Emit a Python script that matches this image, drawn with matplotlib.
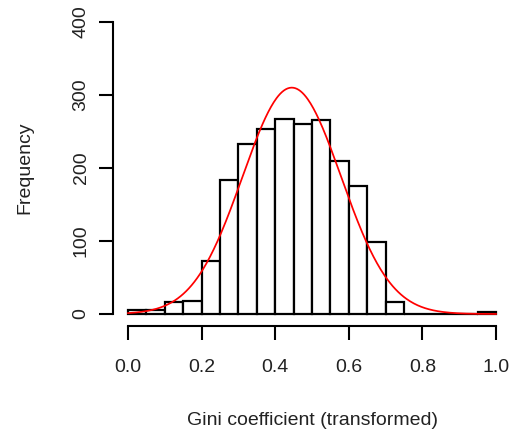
import numpy as np
import matplotlib
matplotlib.use("Agg")
import matplotlib.pyplot as plt

plt.rcParams['font.family'] = ['Liberation Sans', 'DejaVu Sans']

# histogram bins (width 0.05) and counts
bin_edges = np.round(np.arange(0, 1.0001, 0.05), 2)
counts = [5, 5, 16, 18, 72, 183, 233, 254, 267, 260,
          266, 209, 176, 99, 17, 0, 0, 0, 0, 3]

# fitted normal curve parameters
fit_mean = 0.445
fit_sd = 0.134
n_obs = sum(counts)
bin_w = 0.05

fig = plt.figure(figsize=(5.15, 4.38), dpi=100)
ax = fig.add_axes([0.220, 0.2564, 0.7717, 0.7201])

ax.bar(bin_edges[:-1], counts, width=bin_w, align='edge',
       color='white', edgecolor='black', linewidth=1.6)

xs = np.linspace(0, 1, 400)
dens = n_obs * bin_w * np.exp(-0.5 * ((xs - fit_mean) / fit_sd) ** 2) / (fit_sd * np.sqrt(2 * np.pi))
ax.plot(xs, dens, color='red', linewidth=1.25)

ax.set_xlim(-0.04, 1.04)
ax.set_ylim(-16, 416)

for s in ['top', 'right']:
    ax.spines[s].set_visible(False)
ax.spines['left'].set_bounds(0, 400)
ax.spines['bottom'].set_bounds(0, 1)
ax.spines['left'].set_linewidth(1.5)
ax.spines['bottom'].set_linewidth(1.5)

txt = '#222222'
ax.set_xticks([0.0, 0.2, 0.4, 0.6, 0.8, 1.0])
ax.set_xticklabels(['0.0', '0.2', '0.4', '0.6', '0.8', '1.0'])
ax.set_yticks([0, 100, 200, 300, 400])
ax.set_yticklabels(['0', '100', '200', '300', '400'], rotation=90, va='center')
ax.tick_params(axis='both', length=10, width=1.5, labelsize=14, color='black', labelcolor=txt)
ax.tick_params(axis='x', pad=14)
ax.tick_params(axis='y', pad=7)

ax.set_xlabel('Gini coefficient (transformed)', fontsize=14, labelpad=26, color=txt)
ax.set_ylabel('Frequency', fontsize=14, labelpad=28, color=txt)

plt.savefig('out.png', dpi=100)
plt.close()
